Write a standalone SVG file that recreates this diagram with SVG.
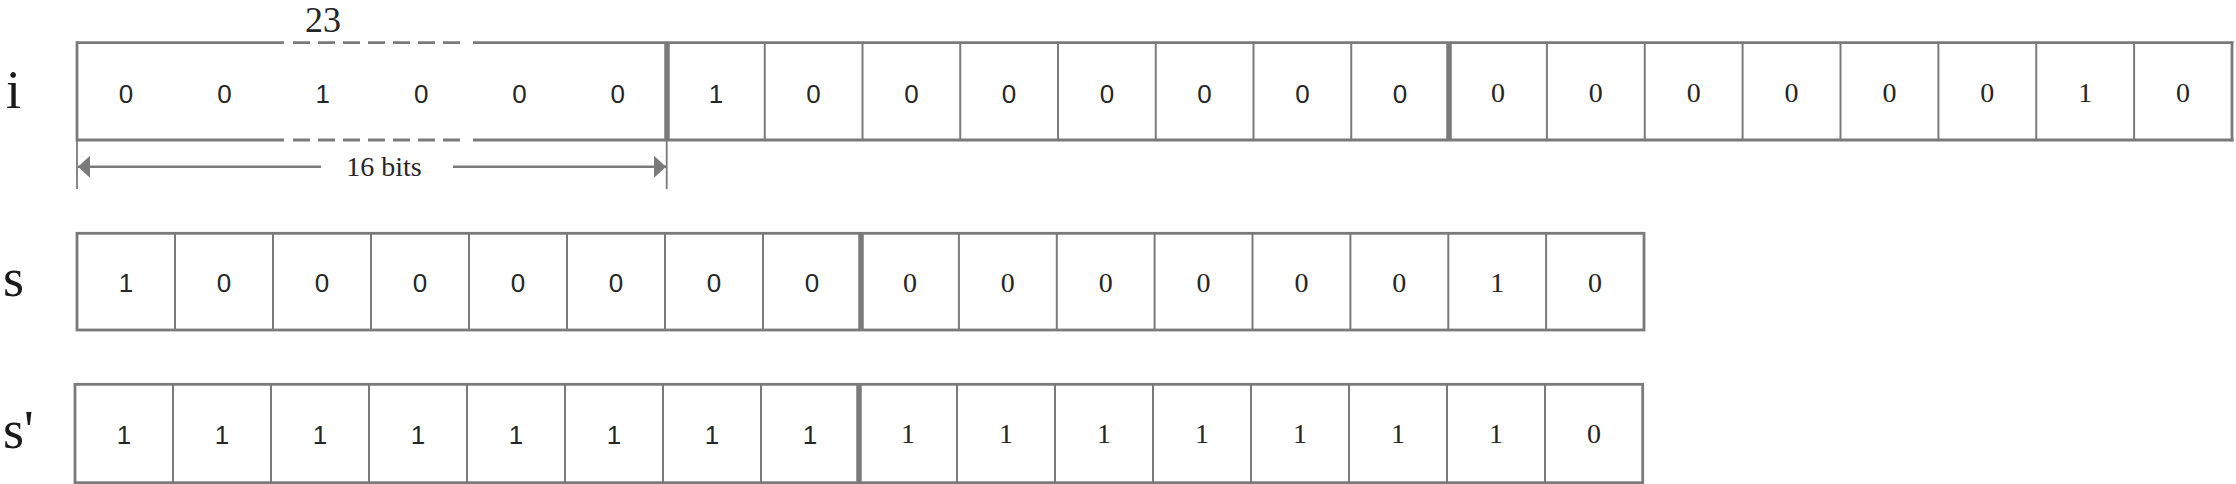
<svg xmlns="http://www.w3.org/2000/svg" width="2236" height="484" viewBox="0 0 2236 484">
<style>
.frame{fill:none;stroke:#7a7a7a;stroke-width:2.8}
.edge{stroke:#7a7a7a;stroke-width:2.8}
.dash{stroke:#7a7a7a;stroke-width:2.8;stroke-dasharray:17 8}
.div{stroke:#7a7a7a;stroke-width:2}
.thick{stroke:#7a7a7a;stroke-width:5.5}
.tick{stroke:#7a7a7a;stroke-width:1.8}
.arr{stroke:#7a7a7a;stroke-width:2.6}
.sans{font-family:"Liberation Sans",Arial,sans-serif;font-size:26px;fill:#262626;text-anchor:middle}
.serif{font-family:"Liberation Serif","Times New Roman",serif;font-size:28px;fill:#262626;text-anchor:middle}
.lbl{font-family:"Liberation Serif","Times New Roman",serif;font-size:54px;fill:#1a1a1a}
.ann{font-family:"Liberation Serif","Times New Roman",serif;fill:#262626;text-anchor:middle}
</style>
<defs>
<marker id="ah" viewBox="0 0 12 22" refX="12" refY="11" markerWidth="12" markerHeight="22" orient="auto-start-reverse" markerUnits="userSpaceOnUse">
<path d="M0,0 L12,11 L0,22 z" fill="#7a7a7a"/>
</marker>
</defs>

<g id="labels">
<text class="lbl" x="6" y="108">i</text>
<text class="lbl" x="3" y="296">s</text>
<text class="lbl" x="3" y="448">s'</text>
</g>

<g id="row-i">
<line class="edge" x1="77" y1="42.7" x2="284" y2="42.7"/>
<line class="dash" x1="293" y1="42.7" x2="465" y2="42.7"/>
<line class="edge" x1="473" y1="42.7" x2="2233.4" y2="42.7"/>
<line class="edge" x1="77" y1="140" x2="284" y2="140"/>
<line class="dash" x1="293" y1="140" x2="465" y2="140"/>
<line class="edge" x1="473" y1="140" x2="2233.4" y2="140"/>
<line class="edge" x1="77" y1="41.3" x2="77" y2="141.4"/>
<line class="edge" x1="2232" y1="41.3" x2="2232" y2="141.4"/>
<line class="thick" x1="667" y1="42.7" x2="667" y2="140"/>
<line class="thick" x1="1449" y1="42.7" x2="1449" y2="140"/>
<g class="div">
<line x1="764.75" y1="42.7" x2="764.75" y2="140"/>
<line x1="862.5" y1="42.7" x2="862.5" y2="140"/>
<line x1="960.25" y1="42.7" x2="960.25" y2="140"/>
<line x1="1058" y1="42.7" x2="1058" y2="140"/>
<line x1="1155.75" y1="42.7" x2="1155.75" y2="140"/>
<line x1="1253.5" y1="42.7" x2="1253.5" y2="140"/>
<line x1="1351.25" y1="42.7" x2="1351.25" y2="140"/>
<line x1="1546.9" y1="42.7" x2="1546.9" y2="140"/>
<line x1="1644.75" y1="42.7" x2="1644.75" y2="140"/>
<line x1="1742.6" y1="42.7" x2="1742.6" y2="140"/>
<line x1="1840.5" y1="42.7" x2="1840.5" y2="140"/>
<line x1="1938.4" y1="42.7" x2="1938.4" y2="140"/>
<line x1="2036.25" y1="42.7" x2="2036.25" y2="140"/>
<line x1="2134.1" y1="42.7" x2="2134.1" y2="140"/>
</g>
<g class="sans">
<text x="126" y="102.5">0</text>
<text x="224.5" y="102.5">0</text>
<text x="322.8" y="102.5">1</text>
<text x="421.2" y="102.5">0</text>
<text x="519.5" y="102.5">0</text>
<text x="617.8" y="102.5">0</text>
<text x="715.9" y="102.5">1</text>
<text x="813.6" y="102.5">0</text>
<text x="911.4" y="102.5">0</text>
<text x="1009.1" y="102.5">0</text>
<text x="1106.9" y="102.5">0</text>
<text x="1204.6" y="102.5">0</text>
<text x="1302.4" y="102.5">0</text>
<text x="1400.1" y="102.5">0</text>
</g>
<g class="serif">
<text x="1497.9" y="102">0</text>
<text x="1595.8" y="102">0</text>
<text x="1693.7" y="102">0</text>
<text x="1791.6" y="102">0</text>
<text x="1889.4" y="102">0</text>
<text x="1987.3" y="102">0</text>
<text x="2085.2" y="102">1</text>
<text x="2183.1" y="102">0</text>
</g>
<text class="ann" x="323" y="32" font-size="36">23</text>
</g>

<g id="row-s">
<rect class="frame" x="77" y="233.3" width="1567" height="96.7"/>
<g class="div">
<line x1="175" y1="233.3" x2="175" y2="330"/>
<line x1="273" y1="233.3" x2="273" y2="330"/>
<line x1="371" y1="233.3" x2="371" y2="330"/>
<line x1="469" y1="233.3" x2="469" y2="330"/>
<line x1="567" y1="233.3" x2="567" y2="330"/>
<line x1="665" y1="233.3" x2="665" y2="330"/>
<line x1="763" y1="233.3" x2="763" y2="330"/>
<line x1="958.9" y1="233.3" x2="958.9" y2="330"/>
<line x1="1056.8" y1="233.3" x2="1056.8" y2="330"/>
<line x1="1154.6" y1="233.3" x2="1154.6" y2="330"/>
<line x1="1252.5" y1="233.3" x2="1252.5" y2="330"/>
<line x1="1350.4" y1="233.3" x2="1350.4" y2="330"/>
<line x1="1448.3" y1="233.3" x2="1448.3" y2="330"/>
<line x1="1546.1" y1="233.3" x2="1546.1" y2="330"/>
</g>
<line class="thick" x1="861" y1="233.3" x2="861" y2="330"/>
<g class="sans">
<text x="126" y="292">1</text>
<text x="224" y="292">0</text>
<text x="322" y="292">0</text>
<text x="420" y="292">0</text>
<text x="518" y="292">0</text>
<text x="616" y="292">0</text>
<text x="714" y="292">0</text>
<text x="812" y="292">0</text>
</g>
<g class="serif">
<text x="909.9" y="291.5">0</text>
<text x="1007.8" y="291.5">0</text>
<text x="1105.7" y="291.5">0</text>
<text x="1203.6" y="291.5">0</text>
<text x="1301.4" y="291.5">0</text>
<text x="1399.3" y="291.5">0</text>
<text x="1497.2" y="291.5">1</text>
<text x="1595.1" y="291.5">0</text>
</g>
</g>

<g id="row-s-prime">
<rect class="frame" x="75" y="384.3" width="1567.7" height="98.4"/>
<g class="div">
<line x1="173" y1="384.3" x2="173" y2="482.7"/>
<line x1="271" y1="384.3" x2="271" y2="482.7"/>
<line x1="369" y1="384.3" x2="369" y2="482.7"/>
<line x1="467" y1="384.3" x2="467" y2="482.7"/>
<line x1="565" y1="384.3" x2="565" y2="482.7"/>
<line x1="663" y1="384.3" x2="663" y2="482.7"/>
<line x1="761" y1="384.3" x2="761" y2="482.7"/>
<line x1="957" y1="384.3" x2="957" y2="482.7"/>
<line x1="1055" y1="384.3" x2="1055" y2="482.7"/>
<line x1="1153" y1="384.3" x2="1153" y2="482.7"/>
<line x1="1251" y1="384.3" x2="1251" y2="482.7"/>
<line x1="1349" y1="384.3" x2="1349" y2="482.7"/>
<line x1="1447" y1="384.3" x2="1447" y2="482.7"/>
<line x1="1545" y1="384.3" x2="1545" y2="482.7"/>
</g>
<line class="thick" x1="859" y1="384.3" x2="859" y2="482.7"/>
<g class="sans">
<text x="124" y="443.5">1</text>
<text x="222" y="443.5">1</text>
<text x="320" y="443.5">1</text>
<text x="418" y="443.5">1</text>
<text x="516" y="443.5">1</text>
<text x="614" y="443.5">1</text>
<text x="712" y="443.5">1</text>
<text x="810" y="443.5">1</text>
</g>
<g class="serif">
<text x="908" y="443">1</text>
<text x="1006" y="443">1</text>
<text x="1104" y="443">1</text>
<text x="1202" y="443">1</text>
<text x="1300" y="443">1</text>
<text x="1398" y="443">1</text>
<text x="1496" y="443">1</text>
<text x="1594" y="443">0</text>
</g>
</g>

<g id="connectors">
<line class="tick" x1="77" y1="140" x2="77" y2="189"/>
<line class="tick" x1="666.7" y1="140" x2="666.7" y2="189"/>
<line class="arr" x1="78" y1="166.7" x2="321" y2="166.7" marker-start="url(#ah)"/>
<line class="arr" x1="453" y1="166.7" x2="666" y2="166.7" marker-end="url(#ah)"/>
<text class="ann" x="384" y="176" font-size="28">16 bits</text>
</g>
</svg>
